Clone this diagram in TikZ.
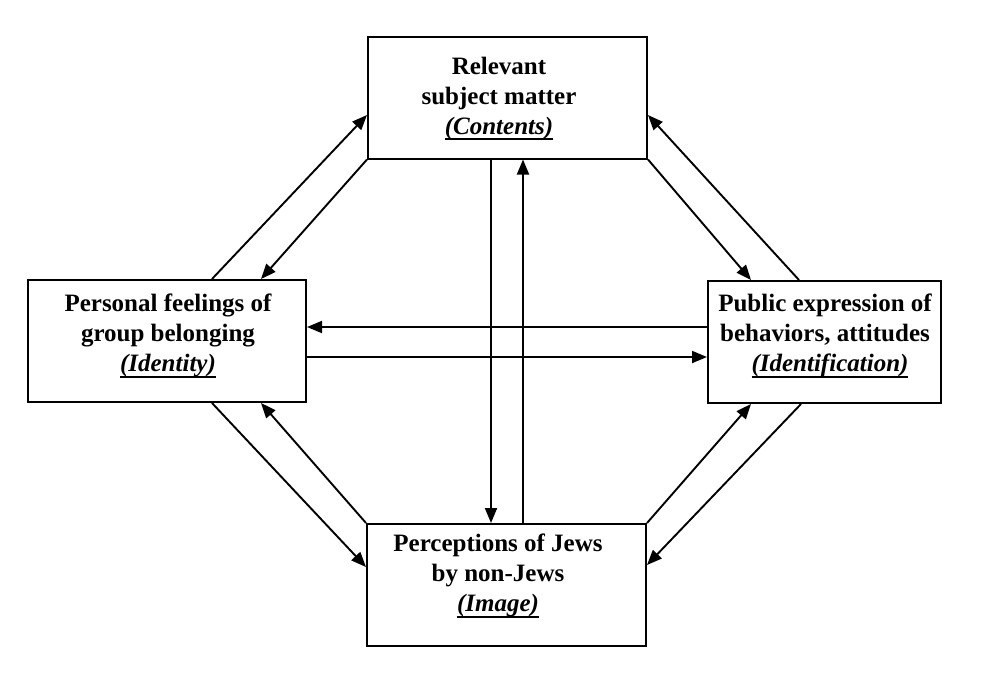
\documentclass[tikz,border=0pt]{standalone}
\usepackage{fontspec}
\setmainfont{Liberation Serif}
\usetikzlibrary{arrows.meta}
\newsavebox\ulbox
\newcommand{\myul}[1]{\sbox\ulbox{#1}\rlap{\rule[-6pt]{\wd\ulbox}{1.8pt}}\usebox\ulbox}
\begin{document}
\begin{tikzpicture}[x=1pt,y=-1pt,
  box/.style={draw,line width=2pt,minimum width=#1,minimum height=122pt,inner sep=0pt},
  lbl/.style={font=\fontsize{25}{30}\selectfont\bfseries,align=center,inner sep=0pt},
  arr/.style={line width=1.9pt,-{Triangle[length=15pt,width=12pt]}}]
\fill[white] (0,0) rectangle (995,681);
\useasboundingbox (0,0) rectangle (995,681);
% boxes
\node[box=279pt] (T) at (507.5,97.5) {};
\node[box=278pt] (L) at (167,341) {};
\node[box=233pt] (R) at (824.5,342) {};
\node[box=279pt] (B) at (506.5,585) {};
% texts
\node[lbl] (Tt) at (499,98.5) {Relevant\\subject matter\\\myul{\textit{(Contents)}}};
\node[lbl] (Lt) at (168,336) {Personal feelings of\\group belonging\\\myul{\textit{(Identity)}}};
\node[lbl] (Rt) at (825,336) {Public expression of\\behaviors, attitudes\\\hspace*{10pt}\myul{\textit{(Identification)}}};
\node[lbl] (Bt) at (498,576) {Perceptions of Jews\\by non-Jews\\\myul{\textit{(Image)}}};
% connectors
\draw[arr] ([xshift=185pt]L.north west) -- ([yshift=-17.5pt]T.west);
\draw[arr] (T.south west) -- ([xshift=234pt]L.north west);
\draw[arr] ([xshift=92pt]R.north west) -- ([yshift=-17.5pt]T.east);
\draw[arr] (T.south east) -- ([xshift=44pt]R.north west);
\draw[arr] ([yshift=15pt]R.west) -- ([yshift=14pt]L.east);
\draw[arr] ([yshift=-16pt]L.east) -- ([yshift=-15pt]R.west);
\draw[arr] ([xshift=-16.5pt]T.south) -- ([xshift=-15.5pt]B.north);
\draw[arr] ([xshift=16.5pt]B.north) -- ([xshift=15.5pt]T.south);
\draw[arr] ([xshift=185pt]L.south west) -- ([yshift=18pt]B.west);
\draw[arr] (B.north west) -- ([xshift=234pt]L.south west);
\draw[arr] (B.north east) -- ([xshift=44pt]R.south west);
\draw[arr] ([xshift=94pt]R.south west) -- ([yshift=20pt]B.east);
\end{tikzpicture}
\end{document}
